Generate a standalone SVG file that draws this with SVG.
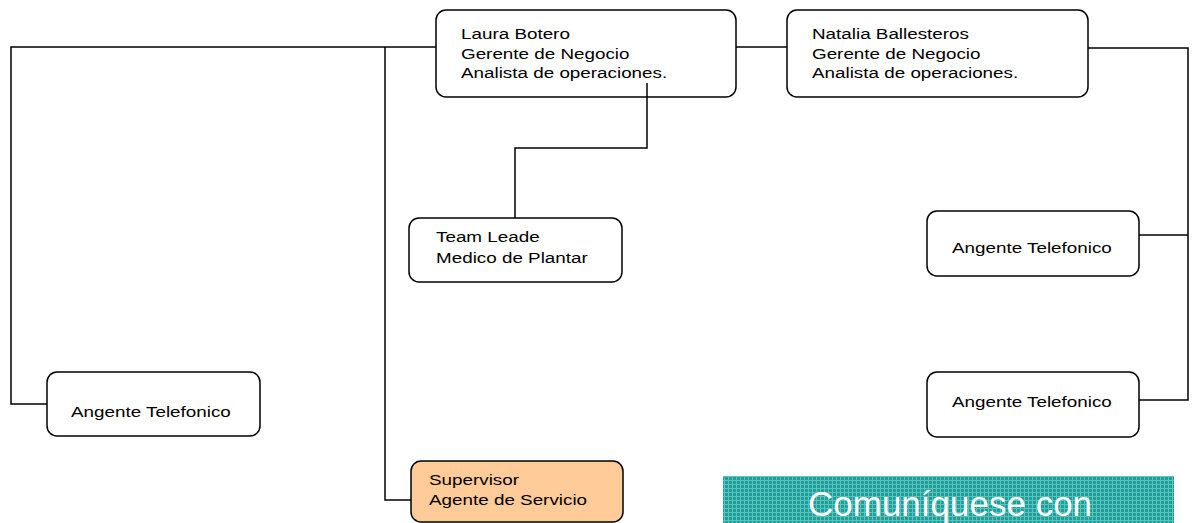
<svg xmlns="http://www.w3.org/2000/svg" width="1196" height="523" viewBox="0 0 1196 523">
<style>
.box{fill:#fff;stroke:#000;stroke-width:1.5}
.sup{fill:#FFCC99;stroke:#000;stroke-width:1.5}
.t{font-family:"Liberation Sans",Arial,sans-serif;font-size:14.5px;fill:#000}
.c{fill:none;stroke:#000;stroke-width:1.5}
.ban{font-family:"Liberation Sans",Arial,sans-serif;font-size:35px;fill:#fff}
</style>
<defs>
<pattern id="grid" width="4" height="4" patternUnits="userSpaceOnUse">
<rect width="4" height="4" fill="#1E9F99"/>
<rect width="4" height="1" fill="#5EC2BC"/>
<rect width="1" height="4" fill="#5EC2BC"/>
</pattern>
</defs>
<g id="laura">
<rect class="box" x="436" y="10" width="300" height="87" rx="10"/>
<text class="t" transform="matrix(1.3,0,0,1,461,39)">Laura Botero</text>
<text class="t" transform="matrix(1.3,0,0,1,461,58.5)">Gerente de Negocio</text>
<text class="t" transform="matrix(1.3,0,0,1,461,78)">Analista de operaciones.</text>
</g>
<g id="natalia">
<rect class="box" x="787" y="10" width="301" height="87" rx="10"/>
<text class="t" transform="matrix(1.3,0,0,1,812,39)">Natalia Ballesteros</text>
<text class="t" transform="matrix(1.3,0,0,1,812,58.5)">Gerente de Negocio</text>
<text class="t" transform="matrix(1.3,0,0,1,812,78)">Analista de operaciones.</text>
</g>
<g id="teamleade">
<rect class="box" x="409" y="218" width="213" height="64" rx="10"/>
<text class="t" transform="matrix(1.3,0,0,1,436,241.5)">Team Leade</text>
<text class="t" transform="matrix(1.3,0,0,1,436,262.5)">Medico de Plantar</text>
</g>
<g id="agente-r1">
<rect class="box" x="927" y="211" width="212" height="65" rx="10"/>
<text class="t" transform="matrix(1.3,0,0,1,952,253)">Angente Telefonico</text>
</g>
<g id="agente-r2">
<rect class="box" x="927" y="372" width="212" height="65" rx="10"/>
<text class="t" transform="matrix(1.3,0,0,1,952,407)">Angente Telefonico</text>
</g>
<g id="agente-left">
<rect class="box" x="47" y="372" width="213" height="64" rx="10"/>
<text class="t" transform="matrix(1.3,0,0,1,71,417)">Angente Telefonico</text>
</g>
<g id="supervisor">
<rect class="sup" x="411" y="461" width="212" height="61" rx="10"/>
<text class="t" transform="matrix(1.3,0,0,1,429,485)">Supervisor</text>
<text class="t" transform="matrix(1.3,0,0,1,429,505)">Agente de Servicio</text>
</g>
<g id="banner">
<rect x="723" y="476" width="451" height="47" fill="url(#grid)"/>
<text class="ban" x="808" y="516">Comuníquese con</text>
</g>
<g id="connectors">
<path class="c" d="M436,47 H11 V404 H47"/>
<path class="c" d="M385,47 V500 H411"/>
<path class="c" d="M736,47 H787"/>
<path class="c" d="M1088,48 H1188 V400 H1139"/>
<path class="c" d="M1139,235 H1188"/>
<path class="c" d="M647,83 V148 H515 V218"/>
</g>
</svg>
